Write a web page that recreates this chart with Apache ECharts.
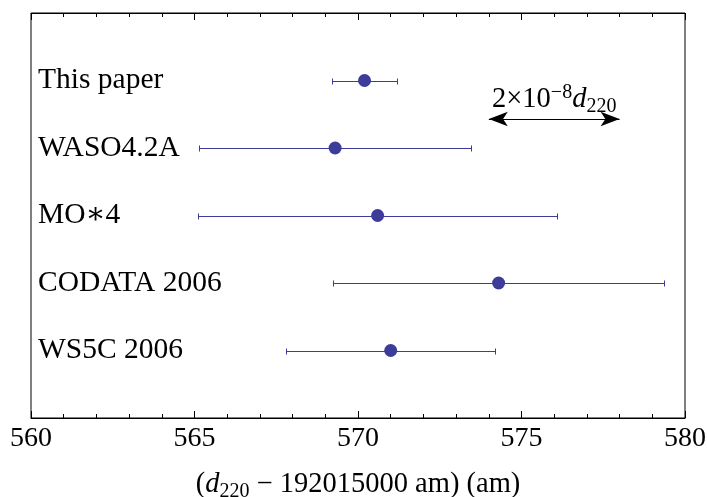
<!DOCTYPE html>
<html>
<head>
<meta charset="utf-8">
<script src="https://cdn.jsdelivr.net/npm/echarts@6/dist/echarts.min.js"></script>
<style>
  html, body { margin: 0; padding: 0; background: #fff; }
  #chart { width: 707px; height: 497px; }
</style>
</head>
<body>
<div id="chart"></div>
<script>
// measurements, listed bottom to top (row 1 = lowest)
const labels = ['WS5C 2006', 'CODATA 2006', 'MO\u22174', 'WASO4.2A', 'This paper'];
const centers = [571.0, 574.3, 570.6, 569.3, 570.2];
const errors = [3.2, 5.05, 5.5, 4.15, 1.0];
const xTicks = [560, 565, 570, 575, 580];
// scale arrow 2x10^-8 d220
const arrowRange = [574.0, 578.0];
const arrowRow = 4.43;

const serif = "'Liberation Serif', 'DejaVu Serif', serif";
const blue = '#3d3d99';

const pointData = centers.map((c, i) => [c, i + 1]);
const barData = centers.map((c, i) => [c - errors[i], i + 1, c + errors[i]]);

const chart = echarts.init(document.getElementById('chart'));

const xAxisCommon = {
  type: 'value',
  min: xTicks[0],
  max: xTicks[xTicks.length - 1],
  interval: 5,
  axisLine: { show: true, lineStyle: { color: '#000', width: 1 } },
  axisTick: { show: true, inside: true, length: 7, lineStyle: { color: '#000' } },
  minorTick: { show: true, splitNumber: 5, length: 4, lineStyle: { color: '#000' } },
  splitLine: { show: false }
};

chart.setOption({
  animation: false,
  grid: {
    left: 31, right: 22, top: 13, bottom: 79,
    outerBoundsMode: 'none',
    containLabel: false,
    show: true, borderColor: '#000', borderWidth: 1
  },
  xAxis: [
    Object.assign({}, xAxisCommon, {
      position: 'bottom',
      axisLabel: { fontSize: 28, color: '#000', fontFamily: serif, margin: 7 },
      name: '({i|d}{sub|220} \u2212 192015000 am) (am)',
      nameLocation: 'middle',
      nameGap: 50,
      nameTextStyle: {
        fontSize: 28.5, color: '#000', fontFamily: serif, lineHeight: 34,
        rich: {
          i: { fontSize: 28.5, fontStyle: 'italic', fontFamily: serif, color: '#000', lineHeight: 34 },
          sub: { fontSize: 20, fontFamily: serif, color: '#000', lineHeight: 19, verticalAlign: 'bottom' }
        }
      }
    }),
    Object.assign({}, xAxisCommon, {
      position: 'top',
      axisLabel: { show: false }
    })
  ],
  yAxis: {
    type: 'value',
    min: 0,
    max: labels.length + 1,
    interval: 1,
    axisLine: { show: false },
    axisTick: { show: false },
    splitLine: { show: false },
    axisLabel: {
      inside: true,
      margin: 7,
      fontSize: 29.5,
      color: '#000',
      fontFamily: serif,
      formatter: v => labels[v - 1] || ''
    }
  },
  series: [
    {
      type: 'custom',
      silent: true,
      data: barData,
      renderItem: function (params, api) {
        const row = api.value(1);
        const lo = api.coord([api.value(0), row]);
        const hi = api.coord([api.value(2), row]);
        // snap to half pixels so the 1px lines stay crisp
        const y = Math.round(lo[1]) + 0.5;
        const x1 = Math.round(lo[0]) + 0.5;
        const x2 = Math.round(hi[0]) + 0.5;
        const cap = 3;
        const st = { stroke: blue, lineWidth: 1 };
        return {
          type: 'group',
          children: [
            { type: 'line', shape: { x1: x1, y1: y, x2: x2, y2: y }, style: st },
            { type: 'line', shape: { x1: x1, y1: y - cap, x2: x1, y2: y + cap }, style: st },
            { type: 'line', shape: { x1: x2, y1: y - cap, x2: x2, y2: y + cap }, style: st }
          ]
        };
      }
    },
    {
      type: 'scatter',
      silent: true,
      symbol: 'circle',
      symbolSize: 13,
      itemStyle: { color: blue, opacity: 1 },
      data: pointData,
      markLine: {
        silent: true,
        symbol: ['arrow', 'arrow'],
        symbolSize: [11, 19],
        lineStyle: { color: '#000', width: 1, type: 'solid' },
        label: {
          show: true,
          position: 'middle',
          distance: 2,
          formatter: '2\u00d710{sup|\u22128}{i|d}{sub|220}',
          fontSize: 28.5,
          color: '#000',
          fontFamily: serif,
          lineHeight: 34,
          rich: {
            sup: { fontSize: 20, fontFamily: serif, color: '#000', lineHeight: 23, verticalAlign: 'top' },
            i: { fontSize: 28.5, fontStyle: 'italic', fontFamily: serif, color: '#000', lineHeight: 34 },
            sub: { fontSize: 20, fontFamily: serif, color: '#000', lineHeight: 19, verticalAlign: 'bottom' }
          }
        },
        data: [[
          { coord: [arrowRange[0], arrowRow] },
          { coord: [arrowRange[1], arrowRow] }
        ]]
      }
    }
  ]
});
</script>
</body>
</html>
